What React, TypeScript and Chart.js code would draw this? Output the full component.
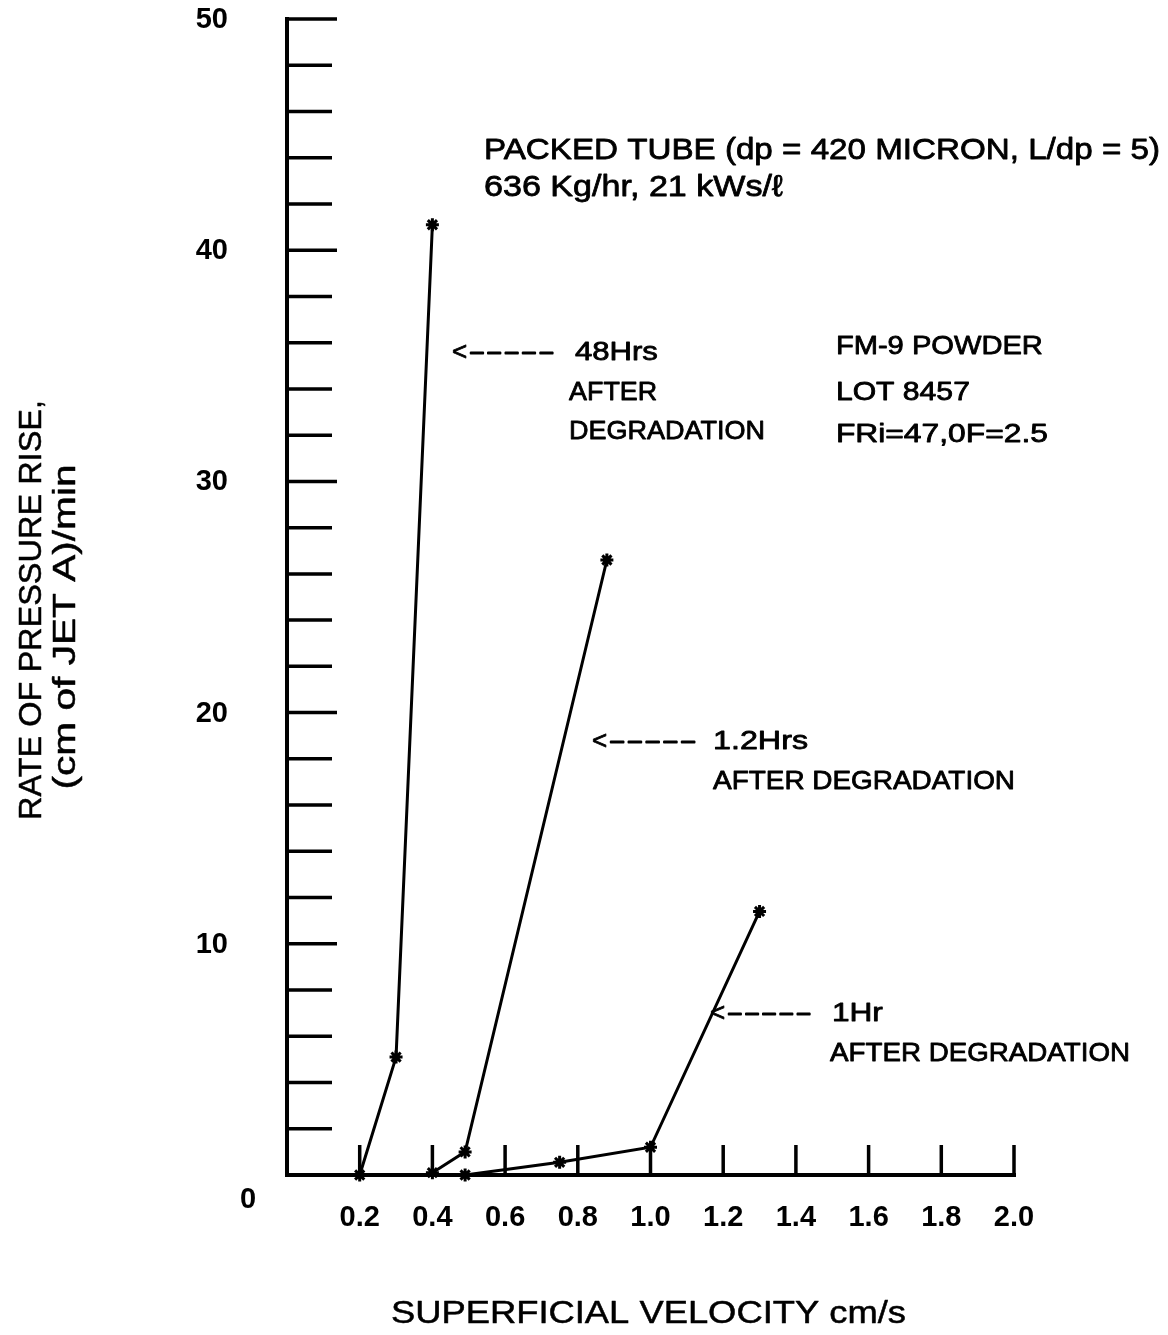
import React, { useEffect, useRef } from "react";
import { Chart, registerables } from "chart.js";

Chart.register(...registerables);

// ---- data ----
const X_48HRS = [0.2, 0.3, 0.4];
const Y_48HRS = [0, 5.1, 41.1];

const X_1_2HRS = [0.4, 0.49, 0.88];
const Y_1_2HRS = [0.1, 1.0, 26.6];

const X_1HR = [0.49, 0.75, 1.0, 1.3];
const Y_1HR = [0, 0.55, 1.2, 11.4];

const X_TICKS = [0.2, 0.4, 0.6, 0.8, 1.0, 1.2, 1.4, 1.6, 1.8, 2.0];
const X_TICK_LABELS = ["0.2", "0.4", "0.6", "0.8", "1.0", "1.2", "1.4", "1.6", "1.8", "2.0"];
const Y_TICKS = [2, 4, 6, 8, 10, 12, 14, 16, 18, 20, 22, 24, 26, 28, 30, 32, 34, 36, 38, 40, 42, 44, 46, 48, 50];
const Y_LABEL_VALUES = [10, 20, 30, 40, 50];
const Y_LABELS = ["10", "20", "30", "40", "50"];
const ZERO_LABEL = "0";

const X_TITLE = "SUPERFICIAL VELOCITY cm/s";
const Y_TITLE_1 = "RATE OF PRESSURE RISE,";
const Y_TITLE_2 = "(cm of JET A)/min";

// annotation texts, anchored in data coordinates (left edge, vertical centre)
type Note = { text: string; x: number; y: number; w: number; size: number; arrow?: boolean };
const NOTES: Note[] = [
  { text: "PACKED TUBE (dp = 420 MICRON, L/dp = 5)", x: 0.542, y: 44.29, w: 676, size: 30 },
  { text: "636 Kg/hr, 21 kWs/ℓ", x: 0.542, y: 42.69, w: 299, size: 30 },
  { text: "<-----", x: 0.454, y: 35.55, w: 103, size: 26, arrow: true },
  { text: "48Hrs", x: 0.792, y: 35.55, w: 83, size: 26 },
  { text: "AFTER", x: 0.776, y: 33.82, w: 88, size: 26 },
  { text: "DEGRADATION", x: 0.776, y: 32.14, w: 196, size: 26 },
  { text: "FM-9 POWDER", x: 1.51, y: 35.81, w: 207, size: 26 },
  { text: "LOT 8457", x: 1.51, y: 33.82, w: 134, size: 26 },
  { text: "FRi=47,0F=2.5", x: 1.51, y: 32.01, w: 212, size: 26 },
  { text: "<-----", x: 0.839, y: 18.73, w: 105, size: 26, arrow: true },
  { text: "1.2Hrs", x: 1.172, y: 18.73, w: 95, size: 26 },
  { text: "AFTER DEGRADATION", x: 1.172, y: 17.0, w: 302, size: 26 },
  { text: "<-----", x: 1.164, y: 6.96, w: 102, size: 26, arrow: true },
  { text: "1Hr", x: 1.499, y: 6.96, w: 51, size: 26 },
  { text: "AFTER DEGRADATION", x: 1.494, y: 5.23, w: 300, size: 26 },
];

const FONT = '"Liberation Sans", Arial, Helvetica, sans-serif';

function drawText(
  ctx: CanvasRenderingContext2D,
  text: string,
  x: number,
  cy: number,
  font: string,
  align: CanvasTextAlign,
  width?: number,
  stroke = 0
) {
  ctx.save();
  ctx.font = font;
  ctx.textAlign = align;
  ctx.textBaseline = "middle";
  const w = ctx.measureText(text).width;
  ctx.translate(x, cy);
  if (width && w > 0) ctx.scale(width / w, 1);
  ctx.fillStyle = "#000";
  ctx.fillText(text, 0, 0);
  if (stroke > 0) {
    ctx.strokeStyle = "#000";
    ctx.lineWidth = stroke;
    ctx.lineJoin = "round";
    ctx.strokeText(text, 0, 0);
  }
  ctx.restore();
}

const paperPlugin = {
  id: "paperAxes",
  beforeDraw(chart: any) {
    const { ctx, width, height } = chart;
    ctx.save();
    ctx.fillStyle = "#fff";
    ctx.fillRect(0, 0, width, height);
    ctx.restore();
  },
  beforeDatasetsDraw(chart: any) {
    const { ctx } = chart;
    const xs = chart.scales.x;
    const ys = chart.scales.y;
    const x0 = xs.getPixelForValue(0);
    const y0 = ys.getPixelForValue(0);
    const yTop = ys.getPixelForValue(50);
    const xEnd = xs.getPixelForValue(2);
    ctx.save();
    ctx.strokeStyle = "#000";
    ctx.lineCap = "square";
    ctx.lineWidth = 4;
    ctx.beginPath();
    ctx.moveTo(x0, yTop);
    ctx.lineTo(x0, y0);
    ctx.lineTo(xEnd, y0);
    ctx.stroke();
    ctx.lineCap = "butt";
    ctx.lineWidth = 3.5;
    ctx.beginPath();
    Y_TICKS.forEach((v) => {
      const py = ys.getPixelForValue(v);
      ctx.moveTo(x0, py);
      ctx.lineTo(x0 + (v % 10 === 0 ? 50 : 45), py);
    });
    X_TICKS.forEach((v) => {
      const px = xs.getPixelForValue(v);
      ctx.moveTo(px, y0);
      ctx.lineTo(px, y0 - 30);
    });
    ctx.stroke();

    // tick labels
    const tickFont = `bold 29px ${FONT}`;
    X_TICKS.forEach((v, i) => {
      drawText(ctx, X_TICK_LABELS[i], xs.getPixelForValue(v), y0 + 43, tickFont, "center");
    });
    Y_LABEL_VALUES.forEach((v, i) => {
      drawText(ctx, Y_LABELS[i], x0 - 59, ys.getPixelForValue(v) + 1, tickFont, "right");
    });
    drawText(ctx, ZERO_LABEL, x0 - 39, y0 + 25, tickFont, "center");

    // axis titles
    const titleFont = `31px ${FONT}`;
    drawText(ctx, X_TITLE, (x0 + xEnd) / 2 - 2, y0 + 139, titleFont, "center", 515, 0.5);
    ctx.save();
    ctx.translate(x0 - 255, 610);
    ctx.rotate(-Math.PI / 2);
    drawText(ctx, Y_TITLE_1, 0, 0, titleFont, "center", 420, 0.5);
    ctx.restore();
    ctx.save();
    ctx.translate(x0 - 221, 627);
    ctx.rotate(-Math.PI / 2);
    drawText(ctx, Y_TITLE_2, 0, 0, titleFont, "center", 325, 0.5);
    ctx.restore();

    // annotations
    NOTES.forEach((n) => {
      const left = xs.getPixelForValue(n.x);
      const cy = ys.getPixelForValue(n.y);
      const font = `${n.size}px ${FONT}`;
      if (n.arrow) {
        const head = n.text.slice(0, 1);
        const dashes = n.text.slice(1);
        ctx.save();
        ctx.font = font;
        const hw = ctx.measureText(head).width;
        ctx.restore();
        drawText(ctx, head, left, cy, font, "left", undefined, 0.8);
        drawText(ctx, dashes, left + hw + 1, cy, font, "left", n.w - hw - 1, 0.8);
      } else {
        drawText(ctx, n.text, left, cy, font, "left", n.w, 0.8);
      }
    });
    ctx.restore();
  },
};

function toPoints(xs: number[], ys: number[]) {
  return xs.map((x, i) => ({ x, y: ys[i] }));
}

export default function App() {
  const canvasRef = useRef<HTMLCanvasElement | null>(null);

  useEffect(() => {
    if (!canvasRef.current) return;
    const common = {
      showLine: true,
      borderColor: "#000",
      backgroundColor: "#000",
      borderWidth: 3,
      pointStyle: "star" as const,
      pointRadius: 6.5,
      pointBorderWidth: 3,
      pointBorderColor: "#000",
      pointBackgroundColor: "#000",
      clip: false as any,
      tension: 0,
    };
    const chart = new Chart(canvasRef.current, {
      type: "scatter",
      data: {
        datasets: [
          { label: "48Hrs after degradation", data: toPoints(X_48HRS, Y_48HRS), ...common },
          { label: "1.2Hrs after degradation", data: toPoints(X_1_2HRS, Y_1_2HRS), ...common },
          { label: "1Hr after degradation", data: toPoints(X_1HR, Y_1HR), ...common },
        ],
      },
      options: {
        responsive: false,
        animation: false,
        layout: { padding: { left: 287, right: 154, top: 19, bottom: 160 } },
        scales: {
          x: { type: "linear", min: 0, max: 2, display: false },
          y: { type: "linear", min: 0, max: 50, display: false },
        },
        plugins: {
          legend: { display: false },
          tooltip: { enabled: false },
        },
      },
      plugins: [paperPlugin],
    });
    return () => chart.destroy();
  }, []);

  return (
    <div style={{ position: "absolute", left: 0, top: 0, width: 1168, height: 1335, background: "#fff" }}>
      <canvas ref={canvasRef} width={1168} height={1335} style={{ display: "block" }} />
    </div>
  );
}
